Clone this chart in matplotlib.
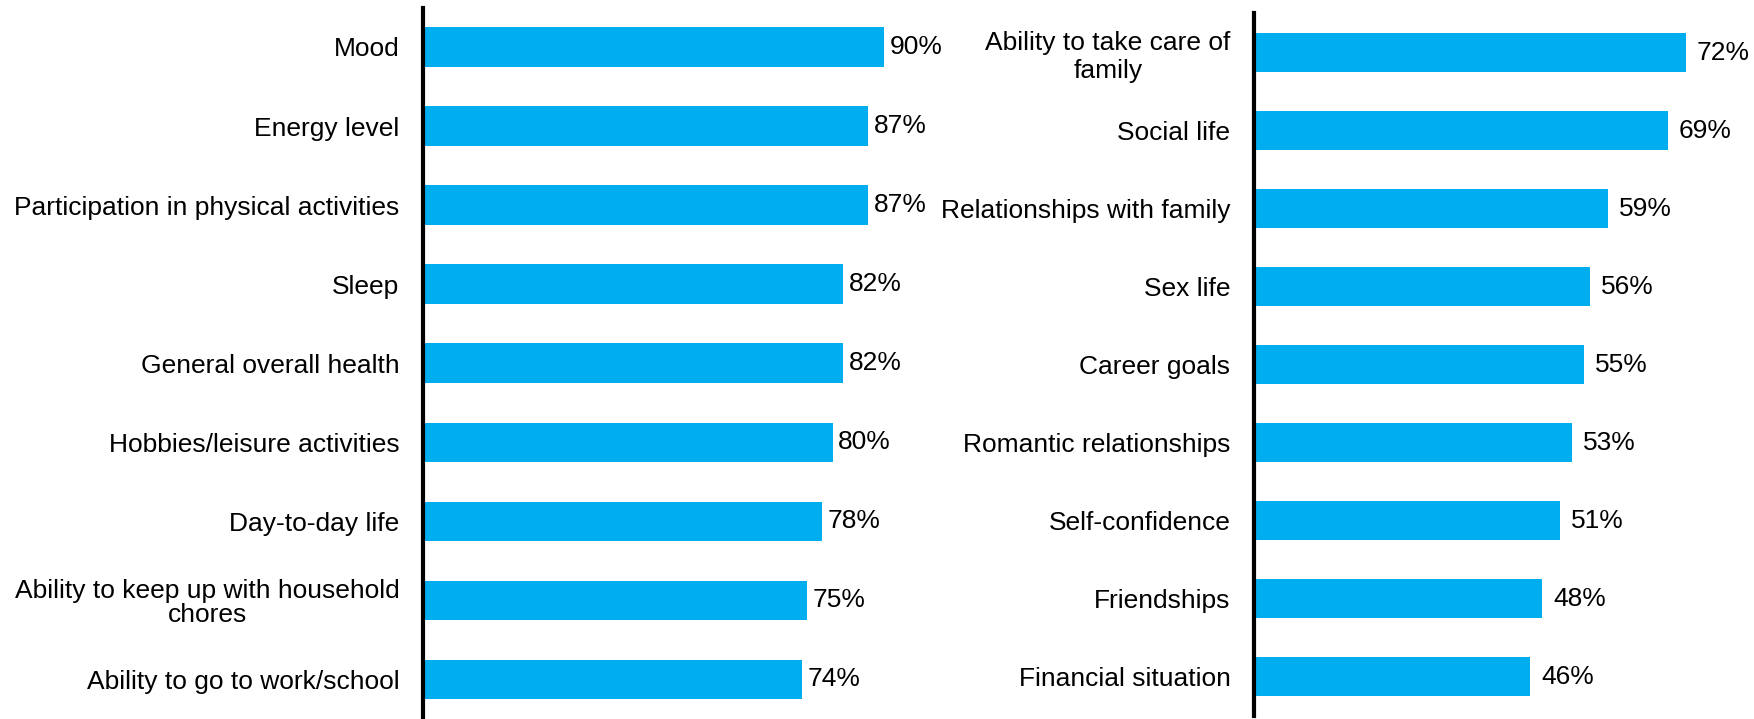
import matplotlib.pyplot as plt

plt.rcParams['font.family'] = ['Liberation Sans', 'DejaVu Sans']

left_labels = ['Mood', 'Energy level', 'Participation in physical activities', 'Sleep',
               'General overall health', 'Hobbies/leisure activities', 'Day-to-day life',
               'Ability to keep up with household\nchores', 'Ability to go to work/school']
left_values = [90, 87, 87, 82, 82, 80, 78, 75, 74]

right_labels = ['Ability to take care of\nfamily', 'Social life', 'Relationships with family',
                'Sex life', 'Career goals', 'Romantic relationships', 'Self-confidence',
                'Friendships', 'Financial situation']
right_values = [72, 69, 59, 56, 55, 53, 51, 48, 46]

bar_color = '#00AEEF'

fig = plt.figure(figsize=(17.54, 7.19), dpi=100)
ax1 = fig.add_axes([423 / 1754, 0.0, 512 / 1754, 711 / 719])
ax2 = fig.add_axes([1254 / 1754, 3 / 719, 480 / 1754, 703 / 719])


def draw(ax, labels, values, xmax, ytop, gap, lsp):
    pos = list(range(len(values)))
    ax.barh(pos, values, height=0.5, color=bar_color)
    ax.set_xlim(0, xmax)
    ax.set_ylim(8.5, ytop)
    ax.set_yticks(pos)
    ax.set_yticklabels(labels, fontsize=19)
    for t in ax.get_yticklabels():
        t.set_multialignment('center')
        t.set_linespacing(lsp)
    ax.tick_params(axis='y', length=0, pad=17)
    ax.set_xticks([])
    for s in ['top', 'right', 'bottom']:
        ax.spines[s].set_visible(False)
    ax.spines['left'].set_linewidth(3)
    ax.spines['left'].set_color('black')
    for i, v in enumerate(values):
        ax.annotate(f'{v}%', (v, i), xytext=(gap, 0), textcoords='offset points',
                    va='center', ha='left', fontsize=19)


draw(ax1, left_labels, left_values, 100, -0.493, 4, 1.0)
draw(ax2, right_labels, right_values, 80, -0.508, 8, 1.2)

fig.savefig('out.png', dpi=100)
